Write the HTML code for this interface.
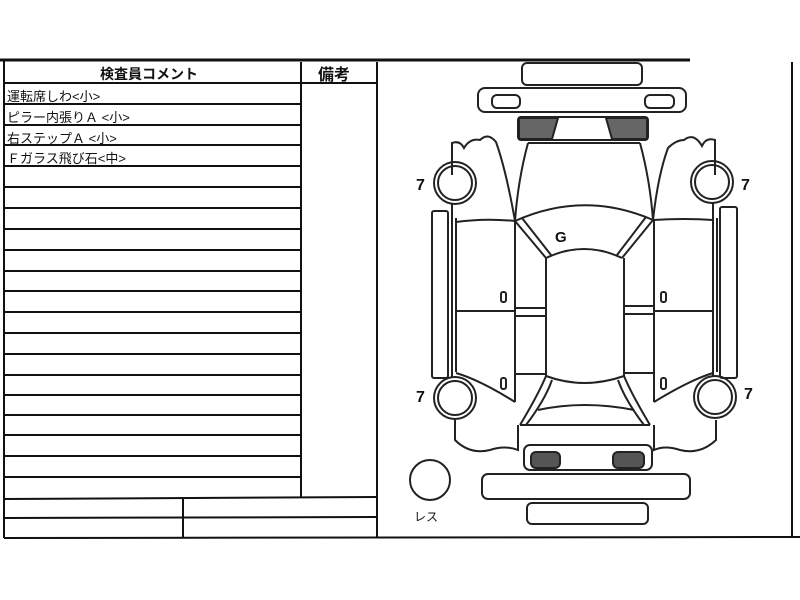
<!DOCTYPE html>
<html><head><meta charset="utf-8"><style>
html,body{margin:0;padding:0;background:#fff;}
body{width:800px;height:600px;position:relative;overflow:hidden;font-family:"Liberation Sans","Noto Sans CJK JP",sans-serif;}
.t{position:absolute;font-size:13px;color:#111;white-space:nowrap;}
</style></head><body>
<svg width="800" height="600" style="position:absolute;left:0;top:0" xmlns="http://www.w3.org/2000/svg">
<g stroke="#111" fill="none" stroke-width="2">
<line x1="0" y1="60" x2="690" y2="60" stroke-width="3"/>
<line x1="4" y1="60" x2="4" y2="538"/>
<line x1="301" y1="62" x2="301" y2="497"/>
<line x1="377" y1="62" x2="377" y2="538"/>
<line x1="4" y1="83" x2="377" y2="83"/>
<line x1="4" y1="104" x2="301" y2="104"/>
<line x1="4" y1="125" x2="301" y2="125"/>
<line x1="4" y1="145" x2="301" y2="145"/>
<line x1="4" y1="166" x2="301" y2="166"/>
<line x1="4" y1="187" x2="301" y2="187"/>
<line x1="4" y1="208" x2="301" y2="208"/>
<line x1="4" y1="229" x2="301" y2="229"/>
<line x1="4" y1="250" x2="301" y2="250"/>
<line x1="4" y1="271" x2="301" y2="271"/>
<line x1="4" y1="291" x2="301" y2="291"/>
<line x1="4" y1="312" x2="301" y2="312"/>
<line x1="4" y1="333" x2="301" y2="333"/>
<line x1="4" y1="354" x2="301" y2="354"/>
<line x1="4" y1="375" x2="301" y2="375"/>
<line x1="4" y1="395" x2="301" y2="395"/>
<line x1="4" y1="415" x2="301" y2="415"/>
<line x1="4" y1="435" x2="301" y2="435"/>
<line x1="4" y1="456" x2="301" y2="456"/>
<line x1="4" y1="477" x2="301" y2="477"/>
<line x1="4" y1="499" x2="377" y2="497"/>
<line x1="4" y1="518" x2="377" y2="517"/>
<line x1="183" y1="499" x2="183" y2="538"/>
<line x1="4" y1="538" x2="800" y2="537"/>
<line x1="792" y1="62" x2="792" y2="537"/>
</g>
<g stroke="#222" fill="none" stroke-width="2">
<rect x="522" y="63" width="120" height="22" rx="5"/>
<rect x="478" y="88" width="208" height="24" rx="7"/>
<rect x="492" y="95" width="28" height="13" rx="5"/>
<rect x="645" y="95" width="29" height="13" rx="5"/>
<rect x="518" y="117" width="130" height="23" rx="3"/>
<path d="M519 118 L558 118 L552 139 L519 139 Z" fill="#666"/>
<path d="M606 118 L647 118 L647 139 L612 139 Z" fill="#666"/>
<path d="M528 143 L640 143"/>
<path d="M528 143 Q518 180 515 221"/>
<path d="M640 143 Q650 180 653 220"/>
<path d="M452 175 L452 143 Q460 140 464 148 Q470 138 480 140 Q488 132 496 142 Q506 170 515 221"/>
<path d="M715 175 L715 140 Q706 137 702 146 Q694 132 684 140 Q676 140 668 148 Q658 175 653 220"/>
<circle cx="455" cy="183" r="21"/><circle cx="455" cy="183" r="17"/>
<circle cx="712" cy="182" r="21"/><circle cx="712" cy="182" r="17"/>
<circle cx="455" cy="398" r="21"/><circle cx="455" cy="398" r="17"/>
<circle cx="715" cy="397" r="21"/><circle cx="715" cy="397" r="17"/>
<circle cx="430" cy="480" r="20"/>
<rect x="432" y="211" width="16" height="167" rx="2"/>
<rect x="720" y="207" width="17" height="171" rx="2"/>
<line x1="452" y1="204" x2="452" y2="377"/><line x1="456" y1="218" x2="456" y2="372"/>
<line x1="713" y1="203" x2="713" y2="377"/><line x1="717" y1="218" x2="717" y2="372"/>
<path d="M456 222 Q485 218 515 221"/>
<path d="M653 220 Q685 218 713 220"/>
<path d="M515 221 Q584 190 653 220"/>
<path d="M546 258 Q584 240 622 258"/>
<path d="M515 221 L546 258 M522 218 L551 255"/>
<path d="M653 220 L622 258 M646 217 L617 255"/>
<path d="M546 258 L546 376 Q584 390 624 376 L624 258"/>
<line x1="515" y1="221" x2="515" y2="402"/>
<line x1="654" y1="220" x2="654" y2="402"/>
<line x1="456" y1="311" x2="515" y2="311"/>
<line x1="654" y1="311" x2="713" y2="311"/>
<line x1="515" y1="308" x2="546" y2="308"/><line x1="515" y1="316" x2="546" y2="316"/>
<line x1="624" y1="306" x2="654" y2="306"/><line x1="624" y1="314" x2="654" y2="314"/>
<line x1="515" y1="374" x2="546" y2="374"/><line x1="624" y1="373" x2="654" y2="373"/>
<path d="M456 373 Q480 380 515 402"/>
<path d="M713 373 Q690 380 654 402"/>
<path d="M546 376 Q538 395 520 425 M552 380 Q545 400 526 425"/>
<path d="M624 376 Q632 395 650 425 M618 380 Q625 400 644 425"/>
<path d="M538 410 Q584 400 634 410"/>
<path d="M455 420 L455 440 Q470 455 490 450 Q505 445 518 450 L518 425"/>
<path d="M716 420 L716 440 Q700 455 680 450 Q665 445 654 450 L654 425"/>
<line x1="520" y1="425" x2="650" y2="425"/>
<rect x="524" y="445" width="128" height="25" rx="6"/>
<rect x="531" y="452" width="29" height="16" rx="5" fill="#555"/>
<rect x="613" y="452" width="31" height="16" rx="5" fill="#555"/>
<rect x="482" y="474" width="208" height="25" rx="6"/>
<rect x="527" y="503" width="121" height="21" rx="5"/>
<rect x="501" y="292" width="5" height="10" rx="2"/>
<rect x="661" y="292" width="5" height="10" rx="2"/>
<rect x="501" y="378" width="5" height="11" rx="2"/>
<rect x="661" y="378" width="5" height="11" rx="2"/>
</g>
<g font-family="Liberation Sans, sans-serif" font-size="16" fill="#111" font-weight="bold">
<text x="416" y="190">7</text><text x="741" y="190">7</text>
<text x="416" y="402">7</text><text x="744" y="399">7</text>
<text x="555" y="242" font-size="15">G</text>
</g>
<text x="414" y="521" font-family="Liberation Sans, Noto Sans CJK JP, sans-serif" font-size="12" fill="#111">レス</text>
</svg>
<div class="t" style="left:100px;top:64px;font-size:14px;font-weight:bold;">検査員コメント</div>
<div class="t" style="left:318px;top:61px;font-size:16px;font-weight:bold;">備考</div>
<div class="t" style="left:7px;top:86px;">運転席しわ&lt;小&gt;</div>
<div class="t" style="left:7px;top:107px;">ピラー内張りＡ &lt;小&gt;</div>
<div class="t" style="left:7px;top:128px;">右ステップＡ &lt;小&gt;</div>
<div class="t" style="left:7px;top:148px;">Ｆガラス飛び石&lt;中&gt;</div>
</body></html>
